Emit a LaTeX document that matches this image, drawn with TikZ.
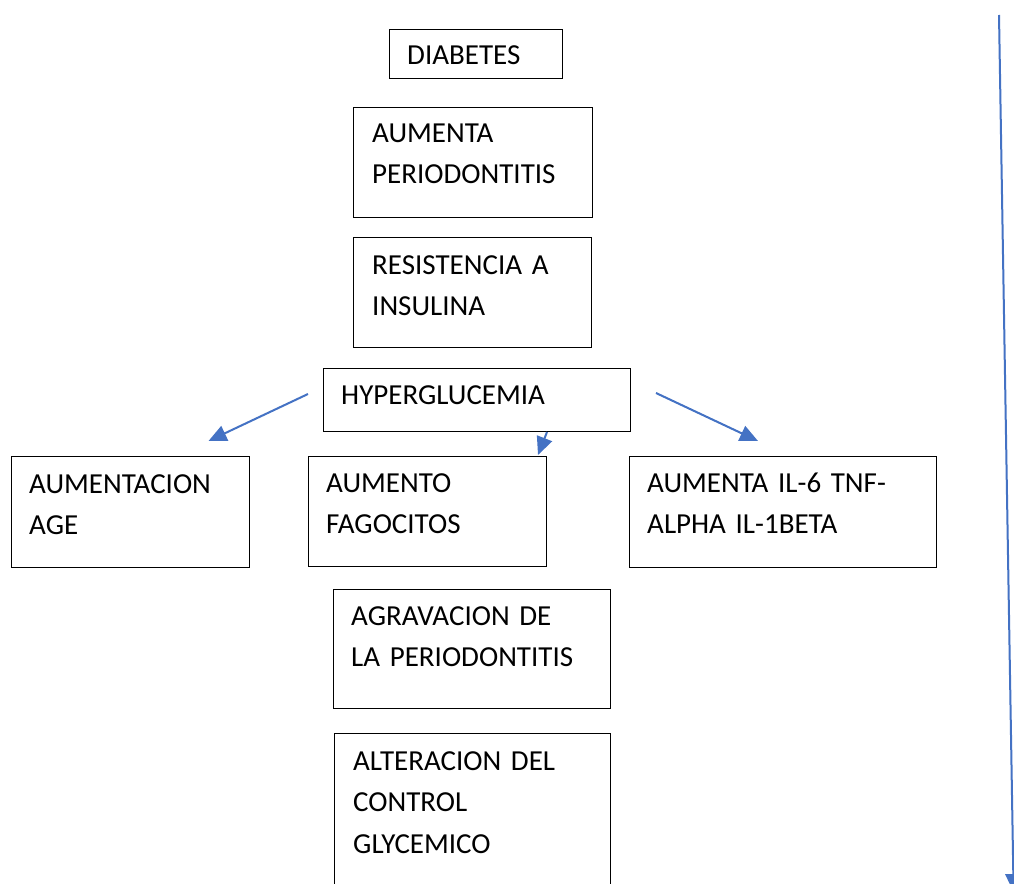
\documentclass[tikz,border=0pt]{standalone}
\usepackage{fontspec}
\setmainfont{Carlito}
\usetikzlibrary{arrows.meta,calc}
\definecolor{officeblue}{HTML}{4472C4}
\newcommand\myboxfont{\fontsize{29}{41.5}\selectfont\spaceskip=5.5pt\relax}
\begin{document}
\begin{tikzpicture}[x=1pt,y=-1pt,
  box/.style={draw=black,line width=1pt,inner sep=0pt,anchor=north west},
  txt/.style={anchor=base west,inner sep=0pt,align=left,text width=300pt,
    font=\myboxfont},
  arr/.style={draw=officeblue,line width=2pt,-{Triangle[length=18pt,width=16pt]}}]
\clip (0,0) rectangle (1014,883);
\fill[white] (0,0) rectangle (1014,883);
% boxes
\node[box,minimum width=173pt,minimum height=49pt] (diab) at (389,29) {};
\node[box,minimum width=239pt,minimum height=110pt] (aper) at (353,107) {};
\node[box,minimum width=238pt,minimum height=110pt] (resi) at (353,237) {};
\node[box,minimum width=307pt,minimum height=63pt] (hyp) at (323,368) {};
\node[box,minimum width=238pt,minimum height=111pt] (age) at (11,456) {};
\node[box,minimum width=238pt,minimum height=110pt] (fago) at (308,456) {};
\node[box,minimum width=307pt,minimum height=111pt] (il) at (629,456) {};
\node[box,minimum width=277pt,minimum height=119pt] (agra) at (333,589) {};
\node[box,minimum width=276pt,minimum height=170pt] (alte) at (334,733) {};
% texts
\node[txt] at (407,64) {DIABETES};
\node[txt] at (372,142) {AUMENTA\\PERIODONTITIS};
\node[txt] at (372,274) {RESISTENCIA A\\INSULINA};
\node[txt] at (341,404) {HYPERGLUCEMIA};
\node[txt] at (29,493) {AUMENTACION\\AGE};
\node[txt] at (326,492) {AUMENTO\\FAGOCITOS};
\node[txt] at (647,492) {AUMENTA IL-6 TNF-\\ALPHA IL-1BETA};
\node[txt] at (351,625) {AGRAVACION DE\\LA PERIODONTITIS};
\node[txt] at (353,770) {ALTERACION DEL\\CONTROL\\GLYCEMICO};
% connectors
\coordinate (l0) at ($(hyp.west)+(-15,-6)$);
\coordinate (l1) at ($(age.north)+(78,-15)$);
\coordinate (m0) at ($(hyp.south east)+(-84,0)$);
\coordinate (m1) at ($(fago.north east)+(-9,-1)$);
\coordinate (r0) at ($(hyp.east)+(25,-7)$);
\coordinate (r1) at ($(il.north west)+(129,-15)$);
\coordinate (t0) at (999,15);
\coordinate (t1) at (1013.6,892);
\draw[arr] (l0) -- (l1);
\draw[arr] (m0) -- (m1);
\draw[arr] (r0) -- (r1);
\draw[arr] (t0) -- (t1);
\end{tikzpicture}
\end{document}
